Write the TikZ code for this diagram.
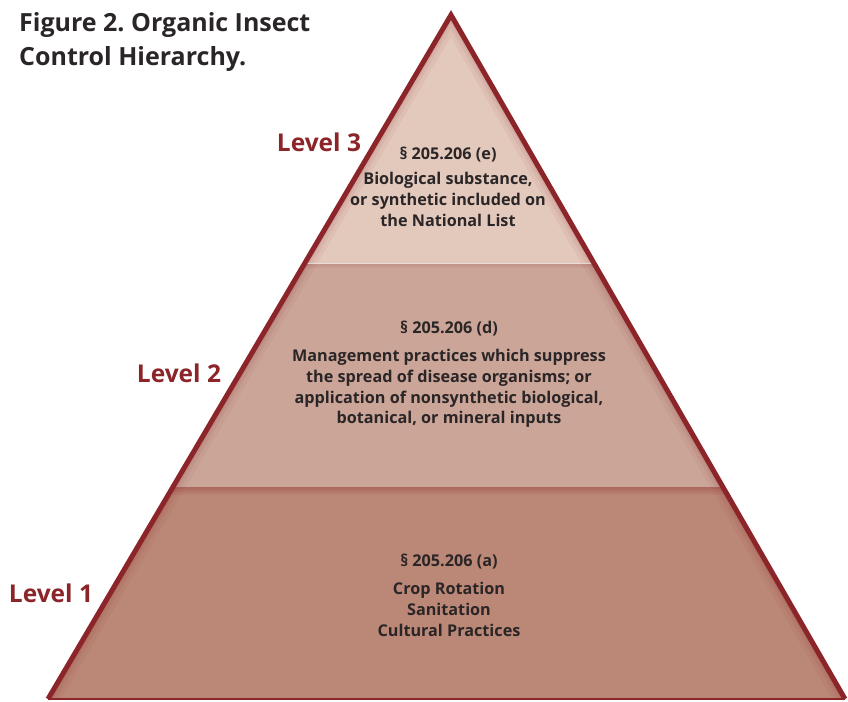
\documentclass[tikz,border=0pt]{standalone}
\usepackage{fontspec}
\setmainfont{Open Sans}
\usetikzlibrary{calc}
\definecolor{rim}{HTML}{8C2529}
\definecolor{pyrtop}{HTML}{E3C8BC}
\definecolor{pyrmid}{HTML}{CBA598}
\definecolor{pyrlow}{HTML}{BB8776}
\definecolor{ink}{HTML}{2A2526}
\frenchspacing
\tikzset{
  levellabel/.style={font=\bfseries\fontsize{24.5}{28}\selectfont,text=rim},
  bodytext/.style={font=\bfseries\fontsize{16.2}{20.7}\selectfont,text=ink,align=center},
  headline/.style={font=\bfseries\fontsize{25}{34.6}\selectfont,text=ink,align=left,inner sep=0pt}
}
\begin{document}
\begin{tikzpicture}[x=1pt,y=-1pt]
\useasboundingbox (0,0) rectangle (848,701);
\coordinate (A) at (451,15);
\coordinate (L) at (48,699);
\coordinate (R) at (845,699);
\coordinate (L3) at ($(A)!0.3626!(L)$);
\coordinate (R3) at ($(A)!0.3626!(R)$);
\coordinate (L2) at ($(A)!0.6901!(L)$);
\coordinate (R2) at ($(A)!0.6901!(R)$);

% bands
\fill[pyrtop] (A)--(L3)--(R3)--cycle;
\fill[pyrmid] (L3)--(L2)--(R2)--(R3)--cycle;
\fill[pyrlow] (L2)--(L)--(R)--(R2)--cycle;

% soft inner shadow
\begin{scope}
\clip (A)--(L)--(R)--cycle;
\foreach \w/\o in {22/0.05,14/0.07,8/0.09}
  \draw[rim,line width=\w,opacity=\o] (L)--(A)--(R);
\foreach \d/\o in {0/0.3,2/0.22,4/0.14,6/0.07}
  \fill[rim,opacity=\o] ($(L2)+(-30,\d)$) rectangle ($(R2)+(30,\d+2)$);
\foreach \d/\o in {1/0.12,3/0.07}
  \fill[rim,opacity=\o] ($(L3)+(-30,\d)$) rectangle ($(R3)+(30,\d+2)$);
\draw[white,opacity=0.6,line width=1] ($(L3)+(-20,0)$)--($(R3)+(20,0)$);
\end{scope}

\draw[rim,line width=5] (L)--(A)--(R);
\draw[rim,line width=2] (L)--(R);

\node[headline,anchor=north west] (title) at (19,12) {Figure 2. Organic Insect\\Control Hierarchy.};

\node[levellabel] (lv3) at (319,142) {Level 3};
\node[levellabel] (lv2) at (179,373) {Level 2};
\node[levellabel] (lv1) at (51,593) {Level 1};

\node[bodytext] (sec3) at (448,155) {§ 205.206 (e)};
\node[bodytext] (txt3) at (448,199.5) {Biological substance,\\or synthetic included on\\the National List};
\node[bodytext] (sec2) at (449,329) {§ 205.206 (d)};
\node[bodytext] (txt2) at (449,388.5) {Management practices which suppress\\the spread of disease organisms; or\\application of nonsynthetic biological,\\botanical, or mineral inputs};
\node[bodytext] (sec1) at (449,562) {§ 205.206 (a)};
\node[bodytext] (txt1) at (449,609.5) {Crop Rotation\\Sanitation\\Cultural Practices};
\end{tikzpicture}
\end{document}
